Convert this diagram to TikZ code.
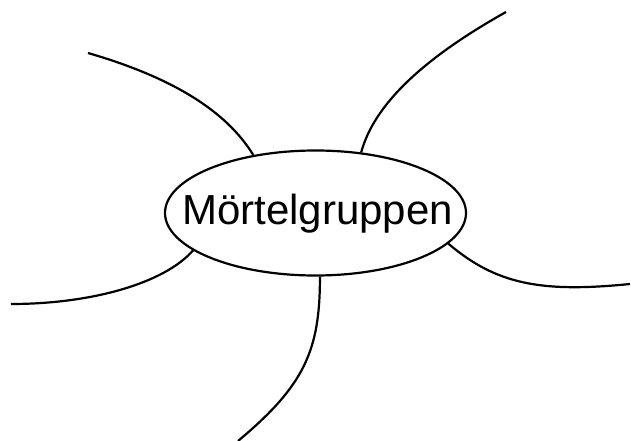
\documentclass[tikz,border=0pt]{standalone}
\usepackage{fontspec}
\setmainfont{Liberation Sans}
\usetikzlibrary{shapes.geometric}
\tikzset{
  branch/.style={line width=2.2pt, black},
  hub/.style={ellipse, draw=black, line width=2.2pt, minimum width=301pt, minimum height=125pt, inner sep=0pt},
  label/.style={inner sep=0pt, anchor=base, font=\fontsize{42}{50}\selectfont}
}
\begin{document}
\begin{tikzpicture}[x=1pt,y=-1pt]
\useasboundingbox[fill=white] (0,0) rectangle (631,441);
\node[hub] (m) at (315.5,213) {};
\node[label] (t) at (317.5,224) {Mörtelgruppen};
\coordinate (tl) at (88,53);
\coordinate (tr) at (506,12);
\coordinate (rr) at (630,284);
\coordinate (ll) at (11,304);
\coordinate (bb) at (238,441);
\draw[branch] (tl) .. controls (172.4,77.5) and (226.1,110.8) .. (m.137.9);
\draw[branch] (tr) .. controls (421.6,59.3) and (373.9,105.3) .. (m.53);
\draw[branch] (m.-13.4) .. controls (496,284) and (540,293) .. (rr);
\draw[branch] (m.197.8) .. controls (164,283.5) and (91,304) .. (ll);
\draw[branch] (m.274) .. controls (320,350) and (305,385) .. (bb);
\end{tikzpicture}
\end{document}
